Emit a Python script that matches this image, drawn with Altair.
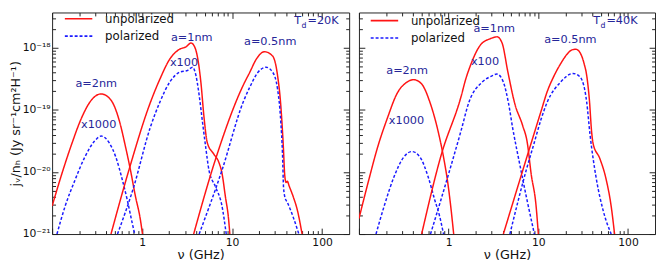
import altair as alt
import pandas as pd

# ---------------- data ----------------
# frequency in GHz, emissivity j_nu/n_H in Jy sr^-1 cm^2 H^-1
# ----- T_d = 20 K -----
nu_20_2nm_u = [0.1, 0.1285, 0.165, 0.212, 0.273, 0.351, 0.451, 0.555, 0.656, 0.743, 0.843, 0.955, 1.01]
j_20_2nm_u = [2.82e-21, 9.44e-21, 2.82e-20, 7.41e-20, 1.445e-19, 1.82e-19, 1.445e-19, 6.92e-20, 2.51e-20, 1.07e-20, 4.07e-21, 1.74e-21, 1.0e-21]
nu_20_2nm_p = [0.1132, 0.1396, 0.1795, 0.2307, 0.2965, 0.351, 0.4315, 0.5105, 0.604, 0.684, 0.776, 0.828]
j_20_2nm_p = [1.0e-21, 2.82e-21, 7.41e-21, 1.74e-20, 3.16e-20, 3.80e-20, 2.95e-20, 1.74e-20, 7.41e-21, 3.55e-21, 1.51e-21, 1.0e-21]

nu_20_1nm_u = [0.451, 0.713, 1.227, 1.578, 2.028, 2.606, 3.083, 3.499, 3.802, 4.130, 4.498, 4.887, 5.309, 6.266, 7.112, 7.727, 8.414, 9.141, 9.441]
j_20_1nm_u = [1.0e-21, 1.072e-20, 1.288e-19, 3.16e-19, 6.61e-19, 9.55e-19, 1.047e-18, 1.202e-18, 1.072e-18, 7.08e-19, 2.82e-19, 7.41e-20, 2.95e-20, 1.95e-20, 1.445e-20, 9.55e-21, 4.07e-21, 1.74e-21, 1.0e-21]
nu_20_1nm_p = [0.533, 0.807, 1.227, 1.578, 2.028, 2.606, 3.214, 3.639, 3.963, 4.305, 4.677, 5.093, 5.534, 6.546, 7.727, 8.610]
j_20_1nm_p = [1.0e-21, 5.75e-21, 5.13e-20, 1.349e-19, 2.82e-19, 4.07e-19, 4.37e-19, 4.90e-19, 3.63e-19, 1.74e-19, 6.61e-20, 2.51e-20, 1.072e-20, 5.75e-21, 2.82e-21, 1.0e-21]

nu_20_05nm_u = [3.741, 6.427, 13.30, 15.74, 18.58, 22.91, 28.25, 31.99, 34.75, 37.15, 38.46, 39.81, 41.21, 42.95, 47.86, 52.84, 59.98]
j_20_05nm_u = [1.0e-21, 1.479e-20, 2.51e-19, 4.07e-19, 6.61e-19, 8.71e-19, 7.41e-19, 3.63e-19, 1.202e-19, 2.51e-20, 8.91e-21, 6.76e-21, 7.08e-21, 6.03e-21, 3.98e-21, 2.51e-21, 1.0e-21]
nu_20_05nm_p = [4.305, 7.727, 13.30, 15.74, 19.41, 23.88, 28.25, 31.99, 34.75, 36.31, 37.33, 38.90, 41.11, 48.64, 55.21]
j_20_05nm_p = [1.0e-21, 1.072e-20, 1.349e-19, 2.34e-19, 4.07e-19, 4.90e-19, 4.07e-19, 2.19e-19, 6.61e-20, 2.0e-20, 5.62e-21, 3.80e-21, 3.24e-21, 1.74e-21, 1.0e-21]

# ----- T_d = 40 K -----
nu_40_2nm_u = [0.1, 0.1285, 0.1614, 0.2075, 0.2667, 0.3436, 0.4055, 0.5000, 0.6166, 0.7621, 0.877, 0.9795, 1.064, 1.138]
j_40_2nm_u = [1.778e-21, 7.41e-21, 2.51e-20, 7.41e-20, 1.862e-19, 2.82e-19, 3.09e-19, 2.63e-19, 1.349e-19, 4.57e-20, 1.738e-20, 6.61e-21, 2.51e-21, 1.0e-21]
nu_40_2nm_p = [0.1549, 0.191, 0.2455, 0.3155, 0.389, 0.4797, 0.5916, 0.6998, 0.7925, 0.877]
j_40_2nm_p = [1.0e-21, 2.82e-21, 8.32e-21, 1.738e-20, 2.14e-20, 1.738e-20, 8.32e-21, 3.55e-21, 1.95e-21, 1.0e-21]

nu_40_1nm_u = [0.5, 0.8279, 1.371, 1.552, 1.762, 2.265, 2.911, 3.475, 3.945, 4.581, 5.470, 6.683, 7.516, 8.318, 9.441, 10.0]
j_40_1nm_u = [1.0e-21, 1.905e-20, 1.622e-19, 3.16e-19, 5.37e-19, 1.122e-18, 1.413e-18, 1.514e-18, 1.202e-18, 4.07e-19, 1.259e-19, 5.62e-20, 3.02e-20, 9.33e-21, 2.82e-21, 1.0e-21]
nu_40_1nm_p = [0.628, 1.023, 1.371, 1.687, 2.366, 3.041, 3.451, 4.074, 4.624, 5.188, 6.194, 7.328, 9.036]
j_40_1nm_p = [1.0e-21, 1.047e-20, 4.57e-20, 1.349e-19, 2.82e-19, 3.55e-19, 3.80e-19, 2.82e-19, 1.349e-19, 5.01e-20, 1.349e-20, 4.07e-21, 1.0e-21]

nu_40_05nm_u = [4.074, 7.516, 10.72, 12.59, 14.96, 17.78, 20.89, 23.71, 26.30, 29.31, 32.36, 34.59, 37.15, 39.26, 40.93, 48.42, 57.28, 64.86, 70.79]
j_40_05nm_u = [1.0e-21, 1.82e-20, 9.55e-20, 2.0e-19, 3.55e-19, 5.62e-19, 7.94e-19, 9.33e-19, 9.55e-19, 8.32e-19, 5.62e-19, 3.63e-19, 1.41e-19, 4.47e-20, 2.82e-20, 1.66e-20, 7.41e-21, 2.82e-21, 1.0e-21]
nu_40_05nm_p = [4.819, 7.328, 9.036, 10.72, 12.59, 17.70, 24.32, 29.31, 34.59, 37.67, 44.57, 52.60, 64.86]
j_40_05nm_p = [1.0e-21, 1.072e-20, 3.02e-20, 7.08e-20, 1.349e-19, 2.82e-19, 3.89e-19, 3.39e-19, 1.349e-19, 4.07e-20, 7.41e-21, 2.45e-21, 1.0e-21]

kinds = ["unpolarized", "polarized"]
panels = ["20K", "40K"]

# annotation labels: text, frequency (GHz), emissivity
ann_text = ["a=2nm", "x1000", "a=1nm", "x100", "a=0.5nm"]
ann_nu_20 = [0.309, 0.329, 3.56, 2.92, 26.5]
ann_j_20 = [2.63e-19, 5.69e-20, 1.445e-18, 5.62e-19, 1.259e-18]
ann_nu_40 = [0.344, 0.339, 3.22, 2.54, 22.75]
ann_j_40 = [4.31e-19, 6.61e-20, 2.0e-18, 5.89e-19, 1.365e-18]

td_values = ["=20K", "=40K"]
td_nu = [49.1, 40.9]
td_j = [2.69e-18, 2.69e-18]

# axis ticks
x_major = [0.1, 1, 10, 100]
x_major_labels = ["", "1", "10", "100"]
x_minor = [0.2, 0.3, 0.4, 0.5, 0.6, 0.7, 0.8, 0.9,
           2, 3, 4, 5, 6, 7, 8, 9,
           20, 30, 40, 50, 60, 70, 80, 90]
y_major = [1e-21, 1e-20, 1e-19, 1e-18]
y_major_labels = ["10⁻²¹", "10⁻²⁰", "10⁻¹⁹", "10⁻¹⁸"]
y_minor = [2e-21, 3e-21, 4e-21, 5e-21, 6e-21, 7e-21, 8e-21, 9e-21,
           2e-20, 3e-20, 4e-20, 5e-20, 6e-20, 7e-20, 8e-20, 9e-20,
           2e-19, 3e-19, 4e-19, 5e-19, 6e-19, 7e-19, 8e-19, 9e-19,
           2e-18, 3e-18]

X_DOMAIN = [0.1, 200]
Y_DOMAIN = [1e-21, 3.74e-18]

# ---------------- tables ----------------
series = {
    "20K": [("2nm", "unpolarized", nu_20_2nm_u, j_20_2nm_u), ("2nm", "polarized", nu_20_2nm_p, j_20_2nm_p),
            ("1nm", "unpolarized", nu_20_1nm_u, j_20_1nm_u), ("1nm", "polarized", nu_20_1nm_p, j_20_1nm_p),
            ("0.5nm", "unpolarized", nu_20_05nm_u, j_20_05nm_u), ("0.5nm", "polarized", nu_20_05nm_p, j_20_05nm_p)],
    "40K": [("2nm", "unpolarized", nu_40_2nm_u, j_40_2nm_u), ("2nm", "polarized", nu_40_2nm_p, j_40_2nm_p),
            ("1nm", "unpolarized", nu_40_1nm_u, j_40_1nm_u), ("1nm", "polarized", nu_40_1nm_p, j_40_1nm_p),
            ("0.5nm", "unpolarized", nu_40_05nm_u, j_40_05nm_u), ("0.5nm", "polarized", nu_40_05nm_p, j_40_05nm_p)],
}


def curve_table(panel):
    rows = []
    for size, kind, nus, js in series[panel]:
        for i, (n, j) in enumerate(zip(nus, js)):
            rows.append({"curve": size + "-" + kind, "kind": kind, "nu": n, "j": j, "idx": i})
    return pd.DataFrame(rows)


def arr(vals):
    return "[" + ",".join(repr(v) for v in vals) + "]"


def label_expr(vals, labels):
    expr = "''"
    for v, l in reversed(list(zip(vals, labels))):
        expr = f"datum.value == {repr(v)} ? '{l}' : ({expr})"
    return expr


TICK = 6
MINOR_DASH = {"condition": {"test": f"indexof({arr(x_major)}, datum.value) < 0",
                            "value": [0, 2.5, 3.5, 10]}, "value": [10, 0]}
MINOR_DASH_Y = {"condition": {"test": f"indexof({arr(y_major)}, datum.value) < 0",
                              "value": [0, 2.5, 3.5, 10]}, "value": [10, 0]}


def x_axis(orient, labels):
    kw = dict(orient=orient, values=x_major + x_minor, tickSize=TICK, offset=-TICK,
              domain=False, grid=False, tickDash=MINOR_DASH, tickColor="#222",
              labelFlush=False, labelOverlap=False)
    if labels:
        kw.update(labelExpr=label_expr(x_major, x_major_labels), title="ν (GHz)",
                  labelPadding=3, titlePadding=1)
    else:
        kw.update(labels=False, title=None)
    return alt.Axis(**kw)


def y_axis(orient, labels):
    kw = dict(orient=orient, values=y_major + y_minor, tickSize=TICK, offset=-TICK,
              domain=False, grid=False, tickDash=MINOR_DASH_Y, tickColor="#222",
              labelFlush=False, labelOverlap=False)
    if labels:
        kw.update(labelExpr=label_expr(y_major, y_major_labels),
                  title="jᵥ/nₕ (Jy sr⁻¹cm²H⁻¹)", labelPadding=2, titlePadding=0)
    else:
        kw.update(labels=False, title=None)
    return alt.Axis(**kw)


NAVY = "#262699"


def panel_chart(pi, panel, width, legend_x, legend_y):
    xs = alt.Scale(type="log", domain=X_DOMAIN, nice=False)
    ys = alt.Scale(type="log", domain=Y_DOMAIN, nice=False)
    leg = alt.Legend(orient="none", legendX=legend_x, legendY=legend_y, title=None,
                     symbolType="stroke", symbolSize=784, symbolStrokeWidth=1.6,
                     labelFontSize=12, labelFont="DejaVu Sans", labelColor="#111",
                     labelOffset=12, clipHeight=10, rowPadding=5.8, padding=0)
    lines = alt.Chart(curve_table(panel)).mark_line(clip=True, strokeWidth=1.5, interpolate="monotone").encode(
        x=alt.X("nu:Q", scale=xs, axis=x_axis("bottom", True)),
        y=alt.Y("j:Q", scale=ys, axis=y_axis("left", pi == 0)),
        color=alt.Color("kind:N", scale=alt.Scale(domain=kinds, range=["#ff1414", "#1a1aff"]), legend=leg),
        strokeDash=alt.StrokeDash("kind:N", scale=alt.Scale(domain=kinds, range=[[1, 0], [3, 2]]), legend=leg),
        detail="curve:N",
        order="idx:Q",
    )
    ann_df = pd.DataFrame({"text": ann_text,
                           "nu": ann_nu_20 if pi == 0 else ann_nu_40,
                           "j": ann_j_20 if pi == 0 else ann_j_40})
    ann = alt.Chart(ann_df).mark_text(fontSize=11.5, font="DejaVu Sans", color=NAVY, baseline="middle").encode(
        x=alt.X("nu:Q", scale=xs, axis=x_axis("top", False)),
        y=alt.Y("j:Q", scale=ys, axis=y_axis("right", False)),
        text="text:N",
    )
    td_df = pd.DataFrame({"nu": [td_nu[pi]], "j": [td_j[pi]], "t": ["T"], "s": ["d"], "v": [td_values[pi]]})
    base_td = alt.Chart(td_df)
    enc = dict(x=alt.X("nu:Q", scale=xs, axis=None), y=alt.Y("j:Q", scale=ys, axis=None))
    t1 = base_td.mark_text(fontSize=11.5, font="DejaVu Sans", color=NAVY, align="left", baseline="middle").encode(text="t:N", **enc)
    t2 = base_td.mark_text(fontSize=8, font="DejaVu Sans", color=NAVY, align="left", baseline="middle", dx=7.5, dy=4.5).encode(text="s:N", **enc)
    t3 = base_td.mark_text(fontSize=11.5, font="DejaVu Sans", color=NAVY, align="left", baseline="middle", dx=13.5).encode(text="v:N", **enc)
    return alt.layer(lines, ann, t1, t2, t3).resolve_axis(x="independent", y="independent").properties(
        width=width, height=226)


left = panel_chart(0, "20K", 303, 12, 1.3)
right = panel_chart(1, "40K", 302, 11, 3.3)

chart = alt.hconcat(left, right, spacing=8).resolve_scale(
    color="independent", strokeDash="independent"
).properties(
    padding={"left": 0, "top": 1, "right": 0, "bottom": 0}
).configure_view(
    stroke="#222", strokeWidth=1
).configure_axis(
    labelFont="DejaVu Sans", labelFontSize=11, labelColor="#111",
    titleFont="DejaVu Sans", titleFontSize=13, titleFontWeight="normal", titleColor="#111",
    tickWidth=1
)

chart.save("out.html", embed_options={"renderer": "svg", "actions": False})
